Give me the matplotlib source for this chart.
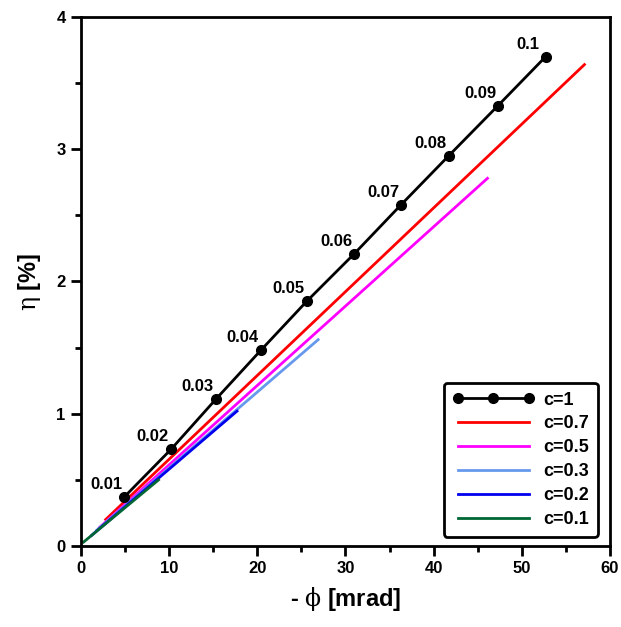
import matplotlib
matplotlib.use("Agg")
import matplotlib.pyplot as plt
from matplotlib.ticker import MultipleLocator

plt.rcParams['font.family'] = ['Liberation Sans', 'DejaVu Sans']
plt.rcParams['font.weight'] = 'bold'
plt.rcParams['mathtext.fontset'] = 'custom'
plt.rcParams['mathtext.rm'] = 'DejaVu Serif:normal'

# c=1 curve with concentration labels
phi_c1 = [4.9, 10.2, 15.3, 20.4, 25.6, 31.0, 36.3, 41.7, 47.3, 52.7]
eta_c1 = [0.37, 0.73, 1.11, 1.48, 1.85, 2.21, 2.58, 2.95, 3.33, 3.70]
conc_labels = ['0.01', '0.02', '0.03', '0.04', '0.05', '0.06', '0.07', '0.08', '0.09', '0.1']

# other c values: straight lines (start, end)
c_labels = ['c=0.7', 'c=0.5', 'c=0.3', 'c=0.2', 'c=0.1']
c_colors = ['#ff0000', '#ff00ff', '#6699ee', '#0000ee', '#006633']
phi_start = [2.8, 2.1, 1.8, 1.2, 0.3]
eta_start = [0.20, 0.14, 0.12, 0.08, 0.03]
phi_end = [57.1, 46.1, 26.9, 17.7, 8.8]
eta_end = [3.64, 2.78, 1.56, 1.02, 0.50]

fig = plt.figure(figsize=(6.21, 6.27), dpi=100)
ax = fig.add_axes([0.1304, 0.1292, 0.8519, 0.8437])

ax.plot(phi_c1, eta_c1, color='black', lw=2, marker='o', ms=7, label='c=1', zorder=5)
for xs, ys, xe, ye, col, lab in zip(phi_start, eta_start, phi_end, eta_end, c_colors, c_labels):
    ax.plot([xs, xe], [ys, ye], color=col, lw=2, label=lab)

for x, y, t in zip(phi_c1, eta_c1, conc_labels):
    ax.annotate(t, (x, y), textcoords='offset points', xytext=(-13, 9),
                ha='center', va='center', fontsize=12, fontweight='bold')

ax.set_xlim(0, 60)
ax.set_ylim(0, 4)
ax.xaxis.set_major_locator(MultipleLocator(10))
ax.xaxis.set_minor_locator(MultipleLocator(5))
ax.yaxis.set_major_locator(MultipleLocator(1))
ax.yaxis.set_minor_locator(MultipleLocator(0.5))
ax.tick_params(which='both', direction='out', width=2)
ax.tick_params(which='major', length=7, labelsize=12, pad=4)
ax.tick_params(which='minor', length=4)
for lbl in ax.get_xticklabels() + ax.get_yticklabels():
    lbl.set_fontweight('bold')
for s in ax.spines.values():
    s.set_linewidth(2)

ax.set_xlabel(r'- $\mathrm{\phi}$ [mrad]', fontsize=17, fontweight='bold', labelpad=6)
ax.set_ylabel(r'$\mathrm{\eta}$ [%]', fontsize=17, fontweight='bold', labelpad=10)

leg = ax.legend(loc='lower right', numpoints=3, handlelength=4.5,
                prop={'weight': 'bold', 'size': 13}, frameon=True, fancybox=True,
                borderpad=0.5, labelspacing=0.38, handletextpad=0.5,
                bbox_to_anchor=(0.994, 0.0))
leg.get_frame().set_edgecolor('black')
leg.get_frame().set_linewidth(2)
leg.get_frame().set_alpha(1)

fig.savefig('out.png', dpi=100)
